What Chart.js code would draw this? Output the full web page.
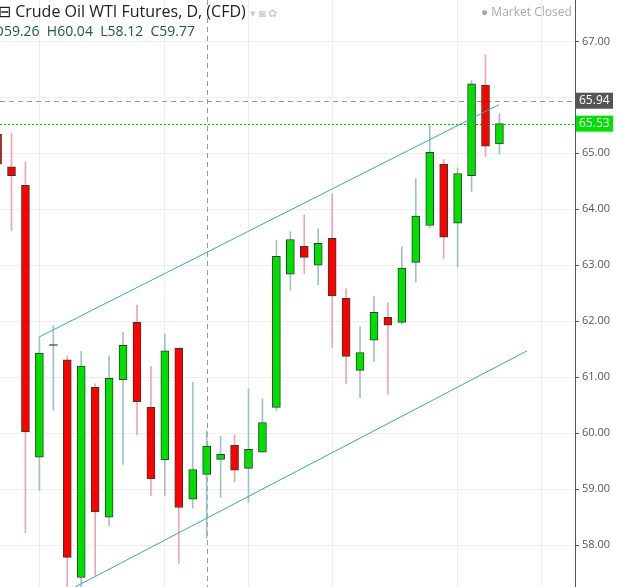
<!DOCTYPE html>
<html><head><meta charset="utf-8">
<script src="https://cdn.jsdelivr.net/npm/chart.js@4"></script>
<style>html,body{margin:0;padding:0;background:#fff}#w{position:relative;width:630px;height:587px;overflow:hidden}
.t{position:absolute;font-family:"Open Sans",sans-serif;white-space:nowrap}</style>
</head><body><div id="w"><canvas id="c" width="630" height="587"></canvas>
<div class="t" style="left:-2px;top:0px;font-size:16px;color:#222">⊟ Crude Oil WTI Futures, D, (CFD) <span style="color:#ccc;font-size:11px">▾ ◙ ✿</span></div>
<div class="t" style="left:-7px;top:21px;font-size:14px;color:#1e5a3c">O59.26 &nbsp;H60.04 &nbsp;L58.12 &nbsp;C59.77</div>
<div class="t" style="left:481px;top:3px;font-size:12px;color:#aaa">● Market Closed</div>
</div>
<script>
const opens  = [65.34,64.76,64.43,59.57,61.57,61.31,57.42,60.82,58.50,60.95,61.98,60.46,59.52,61.52,58.82,59.26,59.53,59.78,59.37,59.66,60.46,62.84,63.34,63.00,63.48,62.41,61.12,61.66,62.07,61.98,63.05,63.71,64.81,63.75,64.60,66.22,65.17];
const highs  = [65.50,65.36,64.85,61.72,61.92,61.38,61.46,60.88,61.38,61.80,62.29,61.19,61.77,61.52,60.91,60.04,59.95,59.97,60.79,60.61,63.45,63.60,63.90,63.65,64.27,62.58,61.90,62.45,62.33,63.33,64.55,65.50,64.89,64.74,66.30,66.76,65.71];
const lows   = [64.70,63.62,58.22,58.97,60.41,57.26,57.20,57.46,58.34,59.44,59.97,58.88,58.88,57.67,58.66,58.12,58.85,59.13,58.76,59.66,60.40,62.55,62.85,62.65,61.53,60.88,60.63,61.28,60.69,61.95,62.70,63.67,63.12,62.97,64.32,64.94,64.99];
const closes = [64.81,64.60,60.02,61.43,61.57,57.78,61.20,58.59,60.98,61.57,60.56,59.18,61.47,58.67,59.35,59.77,59.62,59.34,59.71,60.19,63.16,63.46,63.14,63.39,62.45,61.37,61.44,62.16,61.93,62.95,63.88,65.02,63.50,64.64,66.24,65.13,65.53];
const upperChannel = [[3,61.72],[35.97,65.87]];
const lowerChannel = [[5.56,57.25],[37.98,61.47]];
const yTicks = [58,59,60,61,62,63,64,65,66,67];
const gridDays = [3,12,18,24,33,39];
const lastPrice = 65.53, markPrice = 65.94, crossIdx = 15;

const up = i => closes[i] >= opens[i];
const doji = i => closes[i] === opens[i];
const idx = opens.map((_,i)=>i);
const wick = idx.map(i=>({x:i,y:[lows[i],highs[i]]}));
const body = idx.map(i=>({x:i,y:[Math.min(opens[i],closes[i]),Math.max(opens[i],closes[i])+(doji(i)?0.01:0)]}));

const overlay = {id:'ov',
 beforeDatasetsDraw(ch){const c=ch.ctx,a=ch.chartArea,y=ch.scales.y,x=ch.scales.x;c.save();
  c.lineWidth=1;c.strokeStyle='#999';c.setLineDash([5,4]);
  let px=Math.round(x.getPixelForValue(crossIdx))+0.5;c.beginPath();c.moveTo(px,a.top);c.lineTo(px,a.bottom);c.stroke();
  let py=Math.round(y.getPixelForValue(markPrice))+0.5;c.beginPath();c.moveTo(a.left,py);c.lineTo(a.right,py);c.stroke();
  c.strokeStyle='#00c000';c.setLineDash([2,2]);
  py=Math.round(y.getPixelForValue(lastPrice))+0.5;c.beginPath();c.moveTo(a.left,py);c.lineTo(a.right,py);c.stroke();
  c.restore();},
 afterDraw(ch){const c=ch.ctx,a=ch.chartArea,y=ch.scales.y;c.save();
  c.font='12px "Open Sans",sans-serif';c.textBaseline='middle';
  [[markPrice,'#555'],[lastPrice,'#00e000']].forEach(([v,col])=>{const py=y.getPixelForValue(v);
   c.fillStyle=col;c.fillRect(a.right+1,py-8,37,16);c.fillStyle='#fff';c.fillText(v.toFixed(2),a.right+4,py);});
  c.restore();}};

new Chart(document.getElementById('c'),{
 data:{datasets:[
  {type:'bar',data:wick,barThickness:1,backgroundColor:idx.map(i=>up(i)?'#9cc4c8':'#f0a4ac'),grouped:false,order:3},
  {type:'bar',data:body,barThickness:8,backgroundColor:idx.map(i=>doji(i)?'#2d4d3d':(up(i)?'#00e000':'#ff0000')),borderColor:'#2d3d2d',borderWidth:idx.map(i=>doji(i)?0:1),borderSkipped:false,grouped:false,order:2},
  {type:'line',data:upperChannel.map(p=>({x:p[0],y:p[1]})),borderColor:'#3aae9a',borderWidth:1,pointRadius:0,order:1},
  {type:'line',data:lowerChannel.map(p=>({x:p[0],y:p[1]})),borderColor:'#3aae9a',borderWidth:1,pointRadius:0,order:1}
 ]},
 options:{responsive:false,animation:false,layout:{padding:0},
  plugins:{legend:{display:false},tooltip:{enabled:false}},
  scales:{
   x:{type:'linear',min:0.175,max:41.42,offset:false,display:true,
      afterBuildTicks:s=>{s.ticks=gridDays.map(v=>({value:v}));},
      afterFit:s=>{s.height=0;s.paddingLeft=0;s.paddingRight=0;s.paddingTop=0;s.paddingBottom=0;},
      ticks:{display:false},grid:{color:'#eeeeee',drawTicks:false,offset:false},border:{display:false}},
   y:{position:'right',min:57.25,max:67.74,
      afterBuildTicks:s=>{s.ticks=yTicks.map(v=>({value:v}));},
      afterFit:s=>{s.width=55;s.paddingTop=0;s.paddingBottom=0;},
      ticks:{callback:v=>v.toFixed(2),color:'#555',font:{size:11,family:'"Open Sans",sans-serif'},padding:3},
      grid:{color:'#eeeeee',tickColor:'#555',tickLength:4},border:{color:'#555'}}
  }},
 plugins:[overlay]});
</script></body></html>
